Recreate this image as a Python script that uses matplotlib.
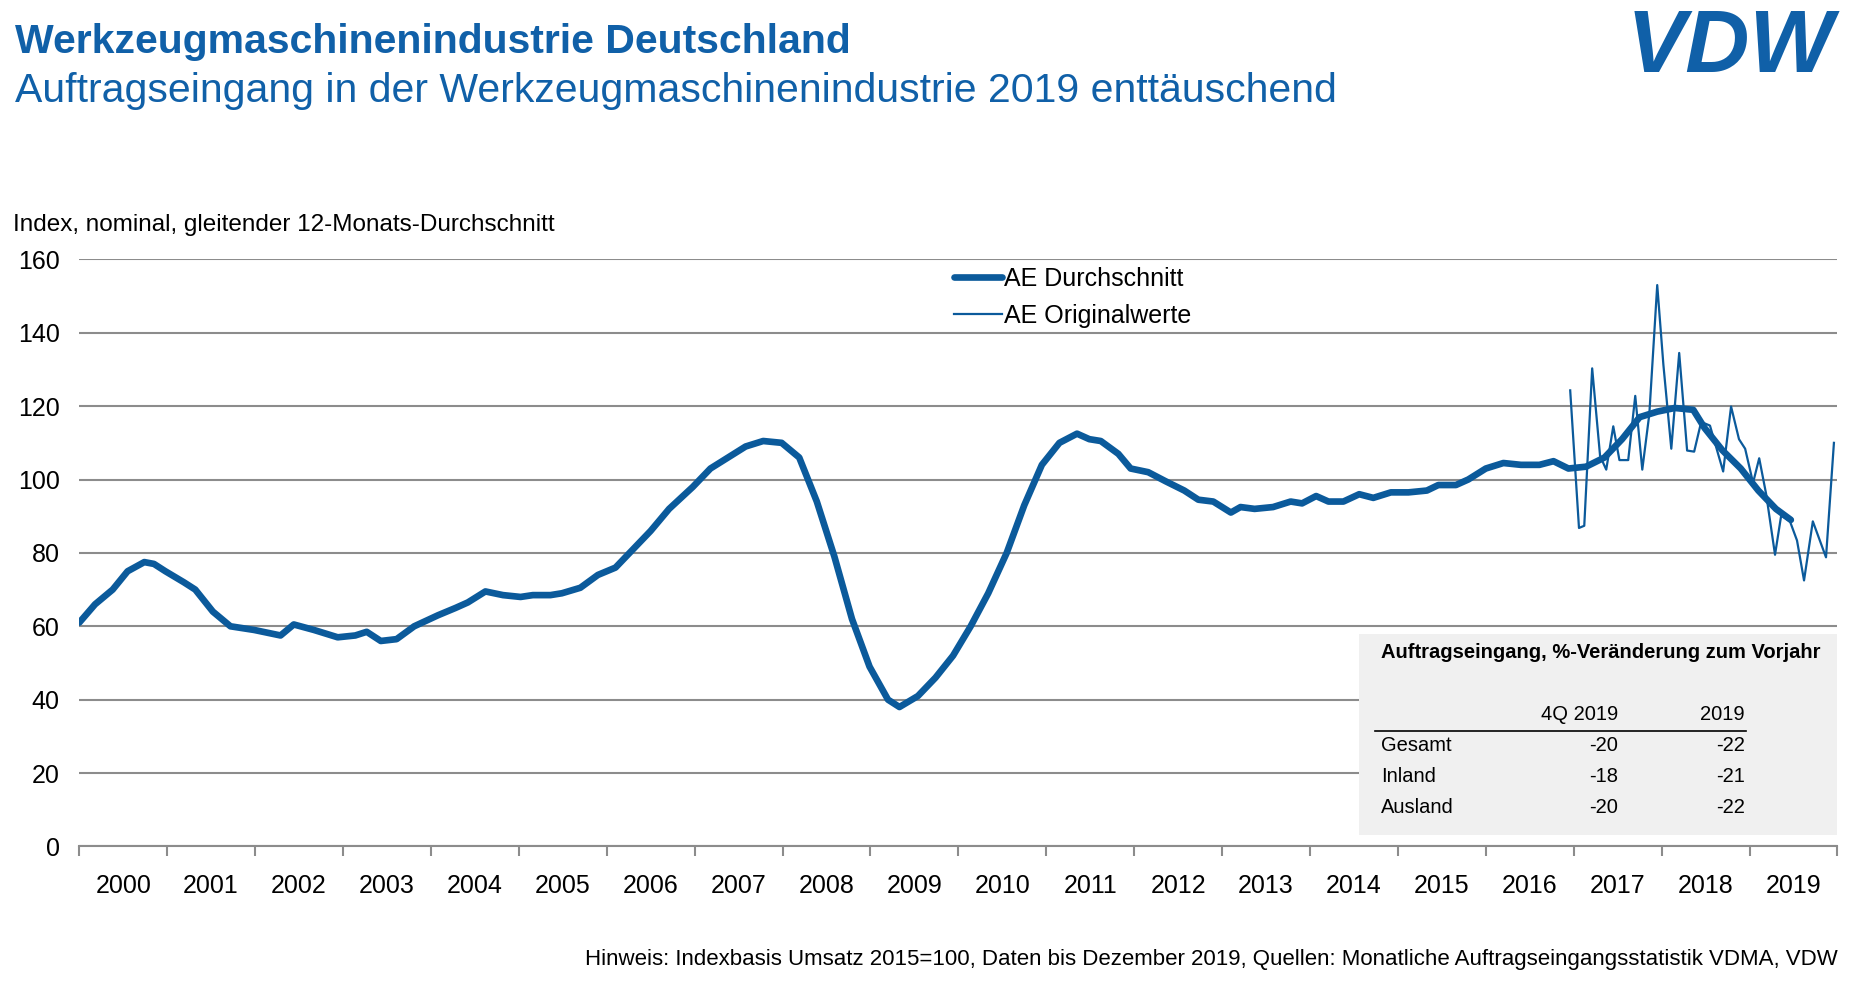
import matplotlib
matplotlib.use("Agg")
import matplotlib.pyplot as plt
import numpy as np

plt.rcParams["font.family"] = ["Liberation Sans", "DejaVu Sans"]

BLUE = "#0b5a9b"
TITLE_BLUE = "#1060a8"

# 12-month moving average (years since 2000, index value)
avg_t = [0.0, 0.18, 0.38, 0.55, 0.74, 0.85, 0.98, 1.19, 1.32, 1.52, 1.72, 1.99, 2.29, 2.44,
         2.67, 2.94, 3.14, 3.27, 3.43, 3.61, 3.81, 4.08, 4.28, 4.42, 4.62, 4.82, 5.02, 5.16,
         5.36, 5.49, 5.70, 5.90, 6.10, 6.30, 6.50, 6.71, 6.98, 7.18, 7.38, 7.58, 7.78, 7.99,
         8.19, 8.39, 8.59, 8.79, 8.99, 9.20, 9.33, 9.54, 9.74, 9.94, 10.14, 10.34, 10.55,
         10.75, 10.95, 11.15, 11.35, 11.49, 11.62, 11.82, 11.96, 12.16, 12.36, 12.57, 12.73,
         12.90, 13.10, 13.21, 13.37, 13.58, 13.78, 13.91, 14.07, 14.21, 14.38, 14.56, 14.72,
         14.92, 15.12, 15.33, 15.46, 15.66, 15.80, 16.00, 16.20, 16.40, 16.61, 16.77, 16.94,
         17.14, 17.35, 17.55, 17.75, 17.95, 18.15, 18.36, 18.49, 18.69, 18.90, 19.10, 19.30,
         19.47]
avg_v = [61, 66, 70, 75, 77.5, 77, 75, 72, 70, 64, 60, 59, 57.5, 60.5,
         59, 57, 57.5, 58.5, 56, 56.5, 60, 63, 65, 66.5, 69.5, 68.5, 68, 68.5,
         68.5, 69, 70.5, 74, 76, 81, 86, 92, 98, 103, 106, 109, 110.5, 110,
         106, 94, 79, 62, 49, 40, 38, 41, 46, 52, 60, 69, 80,
         93, 104, 110, 112.5, 111, 110.5, 107, 103, 102, 99.5, 97, 94.5,
         94, 91, 92.5, 92, 92.5, 94, 93.5, 95.5, 94, 94, 96, 95,
         96.5, 96.5, 97, 98.5, 98.5, 100, 103, 104.5, 104, 104, 105, 103,
         103.5, 106, 111, 117, 118.5, 119.5, 119, 114, 108, 103, 97, 92,
         89]

# monthly original values
orig_t = [16.96, 17.06, 17.12, 17.21, 17.30, 17.37, 17.45, 17.52, 17.62, 17.70, 17.78, 17.86,
          17.95, 18.02, 18.11, 18.20, 18.29, 18.37, 18.45, 18.55, 18.70, 18.79, 18.88, 18.95,
          19.04, 19.11, 19.19, 19.29, 19.36, 19.46, 19.54, 19.62, 19.72, 19.87, 19.96]
orig_v = [124.3, 86.8, 87.4, 130.3, 106.4, 102.7, 114.5, 105.3, 105.3, 122.8, 102.7, 117.8,
          153.0, 131.3, 108.4, 134.5, 107.9, 107.6, 115.7, 114.7, 102.2, 119.9, 111.0, 108.4,
          99.1, 105.8, 95.9, 79.5, 90.2, 88.6, 83.4, 72.5, 88.6, 78.8, 110.0]

years = list(range(2000, 2020))

table_cols = ["4Q 2019", "2019"]
table_rows = ["Gesamt", "Inland", "Ausland"]
table_q4 = [-20, -18, -20]
table_year = [-22, -21, -22]

fig = plt.figure(figsize=(18.56, 9.9), dpi=100)
ax = fig.add_axes([0.0427, 0.145, 0.9473, 0.593])

ax.plot(avg_t, avg_v, color=BLUE, lw=4.8, solid_capstyle="round", solid_joinstyle="round",
        label="AE Durchschnitt", zorder=3)
ax.plot(orig_t, orig_v, color=BLUE, lw=1.6, solid_joinstyle="round", label="AE Originalwerte", zorder=4)

ax.set_xlim(0, 20)
ax.set_ylim(0, 160)
ax.set_yticks(range(0, 161, 20))
ax.yaxis.grid(True, color="#8c8c8c", lw=1.5)
ax.set_axisbelow(True)
ax.tick_params(axis="y", length=0, labelsize=18, pad=14)
ax.set_xticks(np.arange(0, 21), minor=True)
ax.set_xticks(np.arange(20) + 0.5)
ax.set_xticklabels([str(y) for y in years], fontsize=18)
ax.tick_params(axis="x", which="major", length=0, pad=20)
ax.tick_params(axis="x", which="minor", length=7, color="#8c8c8c", width=1.5, direction="out")
for s in ["top", "right", "left"]:
    ax.spines[s].set_visible(False)
ax.spines["bottom"].set_color("#8c8c8c")
ax.spines["bottom"].set_linewidth(1.5)

ax.legend(loc="upper left", bbox_to_anchor=(0.485, 1.025), frameon=False, fontsize=18,
          handlelength=1.9, handletextpad=0.1, labelspacing=0.5)

fig.text(0.008, 0.958, "Werkzeugmaschinenindustrie Deutschland", fontsize=29.5, fontweight="bold",
         color=TITLE_BLUE, va="center")
fig.text(0.008, 0.908, "Auftragseingang in der Werkzeugmaschinenindustrie 2019 enttäuschend",
         fontsize=29.5, color=TITLE_BLUE, va="center")
fig.text(0.007, 0.773, "Index, nominal, gleitender 12-Monats-Durchschnitt", fontsize=17.5, va="center")
fig.text(0.990, 0.031, "Hinweis: Indexbasis Umsatz 2015=100, Daten bis Dezember 2019, Quellen: "
         "Monatliche Auftragseingangsstatistik VDMA, VDW", fontsize=16, ha="right", va="center")
fig.text(0.988, 0.95, "VDW", fontsize=64, fontweight="bold", fontstyle="italic",
         color=TITLE_BLUE, ha="right", va="center")

# summary table box
fig.patches.append(plt.Rectangle((0.732, 0.157), 0.258, 0.203, transform=fig.transFigure,
                                 facecolor="#f0f0f0", edgecolor="none", zorder=5))
fig.text(0.744, 0.341, "Auftragseingang, %-Veränderung zum Vorjahr", fontsize=14.5,
         fontweight="bold", va="center", zorder=6)
col_x = [0.872, 0.94]
for cx, name in zip(col_x, table_cols):
    fig.text(cx, 0.278, name, fontsize=14.5, ha="right", va="center", zorder=6)
fig.add_artist(plt.Line2D([0.741, 0.941], [0.262, 0.262], color="black", lw=1.2, zorder=6))
for i, (r, a, b) in enumerate(zip(table_rows, table_q4, table_year)):
    yy = 0.247 - i * 0.0315
    fig.text(0.744, yy, r, fontsize=14.5, va="center", zorder=6)
    fig.text(col_x[0], yy, str(a), fontsize=14.5, ha="right", va="center", zorder=6)
    fig.text(col_x[1], yy, str(b), fontsize=14.5, ha="right", va="center", zorder=6)

fig.savefig("out.png", dpi=100)
